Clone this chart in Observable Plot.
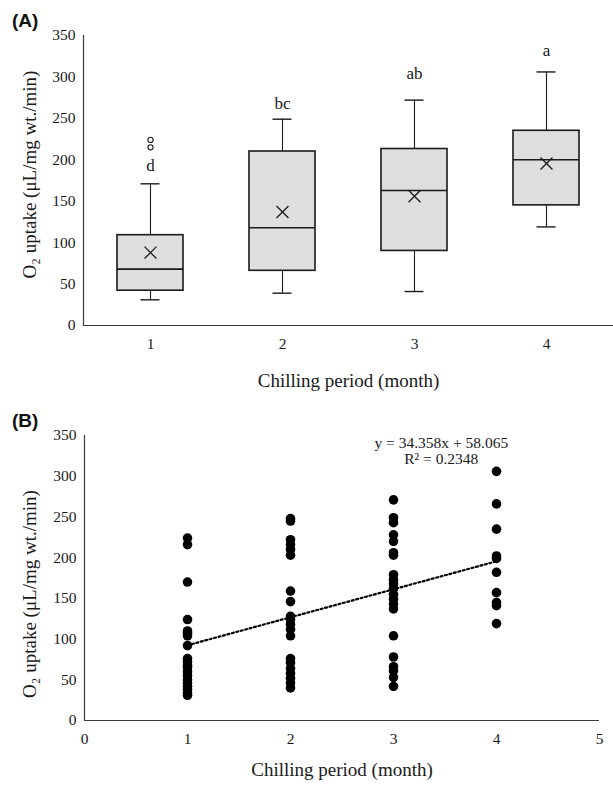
<!DOCTYPE html>
<html>
<head>
<meta charset="utf-8">
<script src="https://cdn.jsdelivr.net/npm/d3@7"></script>
<script src="https://cdn.jsdelivr.net/npm/@observablehq/plot@0.6"></script>
<style>
  html, body { margin: 0; padding: 0; background: #fff; }
  #wrap { position: relative; width: 613px; height: 785px; overflow: hidden; }
  .panel { position: absolute; left: 0; }
  .tag { position: absolute; font-family: "Liberation Sans", Arial, sans-serif; font-weight: bold; font-size: 19px; color: #111; line-height: 1; }
</style>
</head>
<body>
<div id="wrap">
  <div class="panel" id="pa" style="top:0px"></div>
  <div class="panel" id="pb" style="top:400px"></div>
  <div class="tag" style="left:12px;top:11px">(A)</div>
  <div class="tag" style="left:12px;top:411px">(B)</div>
</div>
<script>
// ---------- Panel A: box-plot summaries ----------
const months = [1, 2, 3, 4];
const boxMin = [31, 39, 41, 119];
const boxQ1 = [42, 66, 90, 145];
const boxMedian = [68, 118, 163, 200];
const boxQ3 = [109, 210, 213, 235];
const boxMax = [171, 249, 272, 306];
const boxMean = [88, 137, 156, 195.5];
const outlierMonth = [1, 1];
const outlierValue = [215, 224];
const letters = ["d", "bc", "ab", "a"];
const letterY = [193, 268, 304, 332];
const yTicks = [0, 50, 100, 150, 200, 250, 300, 350];

// ---------- Panel B: individual measurements ----------
const month1 = [224, 216, 170, 124, 110, 107, 104, 92, 76, 72, 68, 65, 60, 55, 50, 46, 42, 38, 34, 31];
const month2 = [248, 245, 222, 216, 210, 203, 159, 146, 128, 124, 118, 112, 104, 76, 71, 64, 58, 52, 46, 40];
const month3 = [271, 249, 243, 228, 220, 206, 203, 179, 173, 168, 162, 155, 149, 143, 137, 104, 78, 66, 61, 53, 42];
const month4 = [306, 266, 235, 202, 199, 182, 157, 145, 141, 119];
const trendX = [1, 4];
const trendY = [92.4, 195.5];
const eqLines = ["y = 34.358x + 58.065", "R² = 0.2348"];
const eqX = [3.464, 3.464];
const eqY = [341, 321];
const xTicksB = [0, 1, 2, 3, 4, 5];

const yTitle = "O₂ uptake (μL/mg wt./min)";
const xTitle = "Chilling period (month)";
const ink = "#1a1a1a";
const axisInk = "#3a3a3a";
const font = "'Liberation Serif', 'Times New Roman', serif";

const boxes = months.map((m, i) => ({
  month: m, min: boxMin[i], q1: boxQ1[i], median: boxMedian[i], q3: boxQ3[i],
  max: boxMax[i], mean: boxMean[i], letter: letters[i], ly: letterY[i]
}));
const outliers = outlierMonth.map((m, i) => ({month: m, value: outlierValue[i]}));

const chartA = Plot.plot({
  width: 613, height: 400,
  marginLeft: 83, marginRight: 0, marginTop: 35, marginBottom: 75,
  style: {fontFamily: font, fontSize: "15.5px", color: ink, background: "white"},
  x: {type: "band", domain: months, padding: 0},
  y: {domain: [0, 350]},
  marks: [
    Plot.axisY(yTicks, {tickSize: 0, tickPadding: 8, label: null, fontSize: 15.5}),
    Plot.axisX(months, {tickSize: 0, tickPadding: 12, label: null, fontSize: 15.5}),
    Plot.frame({anchor: "left", stroke: axisInk, strokeWidth: 1.2}),
    Plot.ruleY([0], {stroke: axisInk, strokeWidth: 1.2}),
    Plot.ruleX(boxes, {x: "month", y1: "min", y2: "q1", stroke: ink, strokeWidth: 1.1}),
    Plot.ruleX(boxes, {x: "month", y1: "q3", y2: "max", stroke: ink, strokeWidth: 1.1}),
    Plot.tickY(boxes, {x: "month", y: "min", inset: 56.5, stroke: ink, strokeWidth: 1.4}),
    Plot.tickY(boxes, {x: "month", y: "max", inset: 56.5, stroke: ink, strokeWidth: 1.4}),
    Plot.barY(boxes, {x: "month", y1: "q1", y2: "q3", insetLeft: 33, insetRight: 33, fill: "#dedede", stroke: ink, strokeWidth: 1.6}),
    Plot.tickY(boxes, {x: "month", y: "median", inset: 33, stroke: ink, strokeWidth: 1.6}),
    Plot.dot(boxes, {x: "month", y: "mean", symbol: "times", r: 5.5, stroke: ink, strokeWidth: 1.3}),
    Plot.dot(outliers, {x: "month", y: "value", r: 2.6, fill: "none", stroke: ink, strokeWidth: 1.1}),
    Plot.text(boxes, {x: "month", y: "ly", text: "letter", fontSize: 17, fill: ink}),
    Plot.text([yTitle], {frameAnchor: "left", textAnchor: "middle", dx: -54, dy: -6, rotate: -90, fontSize: 19, fill: ink, text: d => d}),
    Plot.text([xTitle], {frameAnchor: "bottom", dy: 61, fontSize: 19, fill: ink, text: d => d})
  ]
});
document.getElementById("pa").appendChild(chartA);

const points = [
  ...month1.map(v => ({x: 1, y: v})),
  ...month2.map(v => ({x: 2, y: v})),
  ...month3.map(v => ({x: 3, y: v})),
  ...month4.map(v => ({x: 4, y: v}))
];
const trend = trendX.map((x, i) => ({x, y: trendY[i]}));
const eq = eqLines.map((t, i) => ({t, x: eqX[i], y: eqY[i]}));

const chartB = Plot.plot({
  width: 613, height: 385,
  marginLeft: 84, marginRight: 14, marginTop: 35, marginBottom: 65,
  style: {fontFamily: font, fontSize: "15.5px", color: ink, background: "white"},
  x: {domain: [0, 5]},
  y: {domain: [0, 350]},
  marks: [
    Plot.axisY(yTicks, {tickSize: 0, tickPadding: 8, label: null, fontSize: 15.5}),
    Plot.axisX(xTicksB, {tickSize: 0, tickPadding: 12, label: null, fontSize: 15.5}),
    Plot.ruleX([0], {stroke: axisInk, strokeWidth: 1.2}),
    Plot.ruleY([0], {stroke: axisInk, strokeWidth: 1.2}),
    Plot.dot(points, {x: "x", y: "y", r: 4.8, fill: "#000", stroke: "none"}),
    Plot.line(trend, {x: "x", y: "y", stroke: "#000", strokeWidth: 2.2, strokeDasharray: "2,2.6"}),
    Plot.text(eq, {x: "x", y: "y", text: "t", fontSize: 15.5, fill: ink}),
    Plot.text([yTitle], {frameAnchor: "left", textAnchor: "middle", dx: -55, dy: 16, rotate: -90, fontSize: 19, fill: ink, text: d => d}),
    Plot.text([xTitle], {frameAnchor: "bottom", dy: 55, fontSize: 19, fill: ink, text: d => d})
  ]
});
document.getElementById("pb").appendChild(chartB);
</script>
</body>
</html>
